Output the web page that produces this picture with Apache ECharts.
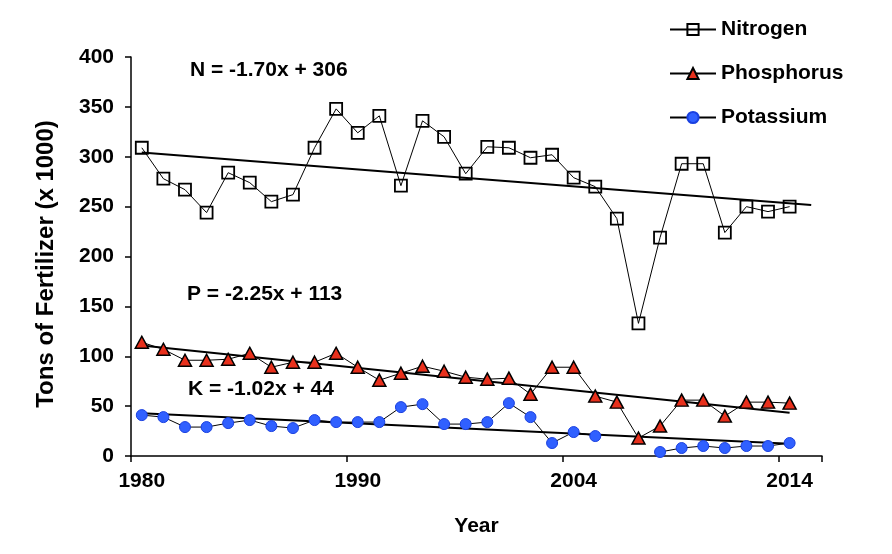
<!DOCTYPE html>
<html>
<head>
<meta charset="utf-8">
<script src="https://cdn.jsdelivr.net/npm/echarts@6/dist/echarts.min.js"></script>
<style>
html,body{margin:0;padding:0;background:#fff;}
#chart{width:892px;height:554px;}
</style>
</head>
<body>
<div id="chart"></div>
<script>
// ---- data ----
const categories = ['1980','1981','1982','1983','1984','1985','1986','1987','1988','1989',
  '1990','1991','1992','1993','1994','1995','1996','1997','1998','1999',
  '2004','2005','2006','2007','2008','2009','2010','2011','2012','2013','2014',''];
const tickLabels = {0:'1980', 10:'1990', 20:'2004', 30:'2014'};
const nitrogen = [309,278,267,244,284,274,255,262,309,348,324,341,271,336,320,283,310,309,299,302,279,270,238,133,219,293,293,224,250,245,250];
const phosphorus = [114,107,96,96,97,103,89,94,94,103,89,76,83,90,85,79,77,78,62,89,89,60,54,18,30,56,56,40,54,54,53];
const potassium = [41,39,29,29,33,36,30,28,36,34,34,34,49,52,32,32,34,53,39,13,24,20,null,null,4,8,10,8,10,10,13];
// trend lines: slope, intercept, x range (1-based)
const trendN = {slope:-1.70, intercept:306, label:'N', from:1, to:32};
const trendP = {slope:-2.25, intercept:113, label:'P', from:1, to:31};
const trendK = {slope:-1.02, intercept:44, label:'K', from:1, to:31};
const yTitle = 'Tons of Fertilizer (x 1000)';
const xTitle = 'Year';

function trendData(t){
  return [[t.from-1, t.intercept + t.slope*t.from],[t.to-1, t.intercept + t.slope*t.to]];
}
function eqText(t){
  return t.label + ' = ' + t.slope.toFixed(2) + 'x + ' + t.intercept;
}

const FONT = '"Liberation Sans", Arial, sans-serif';
const chart = echarts.init(document.getElementById('chart'), null, {renderer:'canvas'});
const showIdx = (i) => tickLabels.hasOwnProperty(i);

chart.setOption({
  animation:false,
  backgroundColor:'#ffffff',
  grid:{left:131, right:70, top:57, bottom:98, containLabel:false},
  legend:{
    orient:'vertical', left:664, top:14, itemWidth:46, itemHeight:14, itemGap:23,
    data:['Nitrogen','Phosphorus','Potassium'],
    textStyle:{fontFamily:FONT, fontWeight:'bold', fontSize:21, color:'#000', padding:[0,0,0,0]}
  },
  xAxis:{
    type:'category', data:categories, boundaryGap:true,
    name:xTitle, nameLocation:'middle', nameGap:60,
    nameTextStyle:{fontFamily:FONT, fontWeight:'bold', fontSize:21, color:'#000'},
    axisLine:{lineStyle:{color:'#000', width:1.5}},
    axisTick:{show:true, inside:false, length:6, interval:(i)=>showIdx(i), lineStyle:{color:'#000', width:1.5}},
    axisLabel:{interval:(i)=>showIdx(i), formatter:(v,i)=>tickLabels[i]||'', margin:15,
      fontFamily:FONT, fontWeight:'bold', fontSize:21, color:'#000'},
    splitLine:{show:false}
  },
  yAxis:{
    type:'value', min:0, max:400, interval:50,
    axisLine:{show:true, lineStyle:{color:'#000', width:1.5}},
    axisTick:{show:true, length:6, lineStyle:{color:'#000', width:1.5}},
    axisLabel:{fontFamily:FONT, fontWeight:'bold', fontSize:21, color:'#000', margin:17},
    splitLine:{show:false}
  },
  series:[
    {name:'trendN', type:'line', data:trendData(trendN), symbol:'none', z:1,
      lineStyle:{color:'#000', width:2}, silent:true},
    {name:'trendP', type:'line', data:trendData(trendP), symbol:'none', z:1,
      lineStyle:{color:'#000', width:2}, silent:true},
    {name:'trendK', type:'line', data:trendData(trendK), symbol:'none', z:1,
      lineStyle:{color:'#000', width:2}, silent:true},
    {name:'Nitrogen', type:'line', data:nitrogen, symbol:'rect', symbolSize:12, z:3,
      lineStyle:{color:'#000', width:1}, color:'#000',
      itemStyle:{color:'rgba(255,255,255,0)', borderColor:'#000', borderWidth:1.8}},
    {name:'Phosphorus', type:'line', data:phosphorus, symbol:'triangle', symbolSize:[13,12], z:3,
      lineStyle:{color:'#000', width:1}, color:'#000',
      itemStyle:{color:'#e8301c', borderColor:'#000', borderWidth:1.5}},
    {name:'Potassium', type:'line', data:potassium, symbol:'circle', symbolSize:11, z:3,
      connectNulls:false,
      lineStyle:{color:'#000', width:1}, color:'#000',
      itemStyle:{color:'#3060ff', borderColor:'#1a40e0', borderWidth:1}}
  ],
  graphic:[
    {type:'text', left:190, top:60, style:{text:eqText(trendN), font:'bold 21px '+FONT, fill:'#000'}},
    {type:'text', left:187, top:284, style:{text:eqText(trendP), font:'bold 21px '+FONT, fill:'#000'}},
    {type:'text', left:188, top:379, style:{text:eqText(trendK), font:'bold 21px '+FONT, fill:'#000'}},
    {type:'text', x:46, y:264, rotation:Math.PI/2,
      style:{text:yTitle, font:'bold 24px '+FONT, fill:'#000', align:'center', verticalAlign:'middle'}}
  ]
});
</script>
</body>
</html>
